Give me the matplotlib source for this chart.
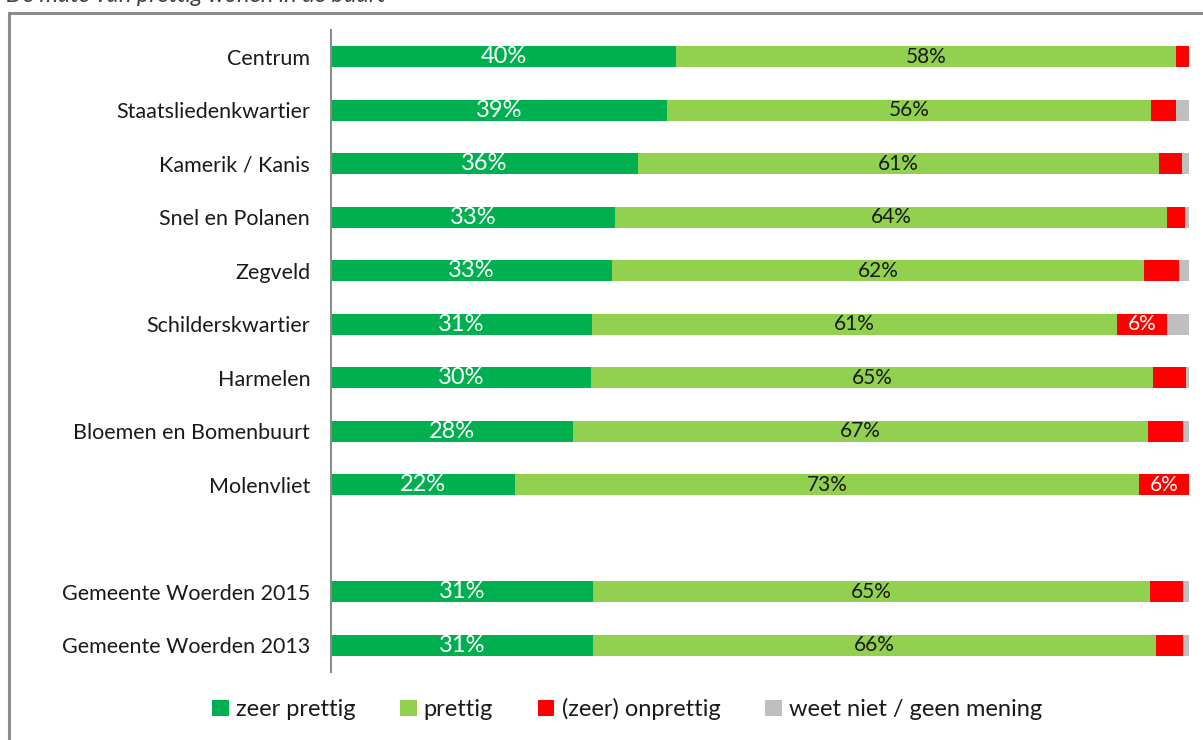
import matplotlib
matplotlib.use("Agg")
import matplotlib.pyplot as plt
from matplotlib.patches import Rectangle

plt.rcParams['font.family'] = ['Lato', 'DejaVu Sans']

categories = ["Centrum", "Staatsliedenkwartier", "Kamerik / Kanis", "Snel en Polanen",
              "Zegveld", "Schilderskwartier", "Harmelen", "Bloemen en Bomenbuurt",
              "Molenvliet", "", "Gemeente Woerden 2015", "Gemeente Woerden 2013"]
zeer_prettig = [40.2, 39.2, 35.8, 33.1, 32.8, 30.4, 30.3, 28.2, 21.4, 0, 30.5, 30.5]
prettig      = [58.3, 56.4, 60.7, 64.3, 62.0, 61.2, 65.5, 67.0, 72.8, 0, 65.0, 65.7]
onprettig    = [1.5, 2.9, 2.7, 2.1, 4.0, 5.8, 3.8, 4.1, 5.8, 0, 3.8, 3.1]
weet_niet    = [0.0, 1.5, 0.8, 0.5, 1.2, 2.6, 0.4, 0.7, 0.0, 0, 0.7, 0.7]

lbl_zeer = ["40%", "39%", "36%", "33%", "33%", "31%", "30%", "28%", "22%", "", "31%", "31%"]
lbl_pret = ["58%", "56%", "61%", "64%", "62%", "61%", "65%", "67%", "73%", "", "65%", "66%"]
lbl_onpr = ["", "", "", "", "", "6%", "", "", "6%", "", "", ""]

series_names = ["zeer prettig", "prettig", "(zeer) onprettig", "weet niet / geen mening"]
colors = ["#00B050", "#92D050", "#FF0000", "#BFBFBF"]

fig = plt.figure(figsize=(12.03, 7.40), dpi=100)
W, H = 1203, 740
ax = fig.add_axes([331 / W, 1 - 672 / H, (1189 - 331) / W, (672 - 30) / H])

y = list(range(len(categories)))
left = [0] * len(categories)
all_series = [zeer_prettig, prettig, onprettig, weet_niet]
for vals, c, name in zip(all_series, colors, series_names):
    ax.barh(y, vals, left=left, height=0.4, color=c, label=name, edgecolor='none')
    left = [l + v for l, v in zip(left, vals)]

for i in y:
    if lbl_zeer[i]:
        ax.text(zeer_prettig[i] / 2, i, lbl_zeer[i], ha='center', va='center',
                color='white', fontsize=17)
    if lbl_pret[i]:
        ax.text(zeer_prettig[i] + prettig[i] / 2, i, lbl_pret[i], ha='center',
                va='center', color='#1a1a1a', fontsize=15)
    if lbl_onpr[i]:
        ax.text(zeer_prettig[i] + prettig[i] + onprettig[i] / 2, i, lbl_onpr[i],
                ha='center', va='center', color='white', fontsize=15)

ax.set_xlim(0, 100)
ax.set_ylim(11.5, -0.5)
ax.set_yticks(y)
ax.set_yticklabels(categories, fontsize=15.5, color='#1a1a1a')
ax.tick_params(axis='y', length=0, pad=15)
ax.set_xticks([])
for s in ['top', 'right', 'bottom']:
    ax.spines[s].set_visible(False)
ax.spines['left'].set_color('#8C8C8C')
ax.spines['left'].set_linewidth(1.5)

# outer frame
fig.patches.append(Rectangle((9 / W, -0.05), 1.1, 1 - 13 / H + 0.05,
                             transform=fig.transFigure, fill=False,
                             edgecolor='#8C8C8C', linewidth=2.2))

# title (cut off at top, as in the reference)
fig.text(6 / W, 1 + 4 / H, "De mate van prettig wonen in de buurt", fontsize=17,
         fontstyle='italic', color='#404040', ha='left', va='center')

handles, labels = ax.get_legend_handles_labels()
fig.legend(handles, labels, loc='center', bbox_to_anchor=(627 / W, 1 - 709 / H),
           ncol=4, frameon=False, fontsize=17, handlelength=0.7, handleheight=0.7,
           handletextpad=0.3, columnspacing=1.9,
           labelcolor='#1a1a1a')

fig.savefig("out.png", dpi=100)
